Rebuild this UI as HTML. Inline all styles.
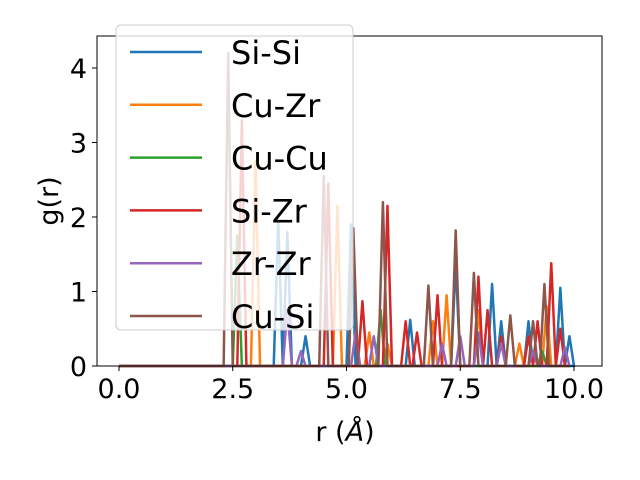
<!DOCTYPE html>
<html><head><meta charset="utf-8"><style>body{margin:0;background:#fff}svg{display:block;font-family:"DejaVu Sans","Liberation Sans",sans-serif}</style></head>
<body>
<svg id="chart" width="640" height="480"></svg>
<script>
const seriesNames=["Si-Si","Cu-Zr","Cu-Cu","Si-Zr","Zr-Zr","Cu-Si"];
const colors=["#1f77b4","#ff7f0e","#2ca02c","#d62728","#9467bd","#8c564b"];
const siSiR=[3.5,3.7,4.1,5.1,6.4,7.4,8.2,8.4,9.0,9.7,9.9];
const siSiG=[1.95,1.8,0.4,1.9,0.62,1.4,1.1,0.6,0.6,1.05,0.4];
const cuZrR=[3.0,4.8,5.5,5.9,6.9,7.2,7.9,8.8,9.4];
const cuZrG=[2.75,2.15,0.45,0.3,0.6,0.95,0.75,0.3,0.8];
const cuCuR=[2.6,5.75,9.3];
const cuCuG=[1.75,0.75,0.2];
const siZrR=[2.7,4.6,5.35,5.9,6.3,6.55,7.0,7.9,8.1,8.4,9.0,9.2,9.5,9.7];
const siZrG=[3.3,2.45,0.87,2.15,0.6,0.45,0.95,1.2,0.75,0.4,0.4,0.6,1.38,0.5];
const zrZrR=[3.7,4.0,5.2,5.6,7.1,7.5,7.9,8.4,9.1,9.8];
const zrZrG=[0.75,0.2,0.45,0.4,0.3,0.4,0.45,0.3,0.2,0.25];
const cuSiR=[2.4,4.5,5.15,5.8,6.8,7.4,7.8,8.6,9.1,9.35];
const cuSiG=[4.2,2.55,1.85,2.2,1.08,1.82,1.25,0.68,0.6,1.1];
const xTicks=[0,2.5,5,7.5,10];
const xTickLabels=["0.0","2.5","5.0","7.5","10.0"];
const yTicks=[0,1,2,3,4];
const yTickLabels=["0","1","2","3","4"];
const allR=[siSiR,cuZrR,cuCuR,siZrR,zrZrR,cuSiR];
const allG=[siSiG,cuZrG,cuCuG,siZrG,zrZrG,cuSiG];
const NS="http://www.w3.org/2000/svg";
const svg=document.getElementById('chart');
const L=97,R=602,T=36,B=366;
const xs=v=>119+v*45.5, ys=v=>366-v*74.5;
function mk(t,a,p){const e=document.createElementNS(NS,t);for(const k in a)e.setAttribute(k,a[k]);(p||svg).appendChild(e);return e;}
allR.forEach((rs,i)=>{
  const gs=allG[i];
  let d="M"+xs(0)+","+ys(0);
  rs.forEach((r,j)=>{d+=" L"+xs(r-0.1)+","+ys(0)+" L"+xs(r)+","+ys(gs[j])+" L"+xs(r+0.1)+","+ys(0);});
  d+=" L"+xs(9.9)+","+ys(0);
  const p=mk('path',{d:d,fill:"none",stroke:colors[i],"stroke-width":2.5,"stroke-linejoin":"round"});
  
  
});
const frame=mk('rect',{x:L,y:T,width:R-L,height:B-T,fill:"none",stroke:"#000","stroke-width":1});


xTicks.forEach((v,i)=>{
  mk('line',{x1:xs(v),x2:xs(v),y1:B,y2:B+5,stroke:"#000"});
  const t=mk('text',{x:xs(v),y:B+32,"font-size":27,"text-anchor":"middle"});t.textContent=xTickLabels[i];
  
  
});
yTicks.forEach((v,i)=>{
  mk('line',{x1:L-5,x2:L,y1:ys(v),y2:ys(v),stroke:"#000"});
  const t=mk('text',{x:L-10,y:ys(v)+10,"font-size":27,"text-anchor":"end"});t.textContent=yTickLabels[i];
  
  
});
const xl=mk('text',{x:345,y:441,"font-size":27,"text-anchor":"middle"});xl.innerHTML='r (<tspan font-style="italic">Å</tspan>)';


const yl=mk('text',{x:58,y:201,"font-size":27,"text-anchor":"middle",transform:"rotate(-90 58 201)"});yl.textContent='g(r)';


const lg=mk('g',{});


mk('rect',{x:116,y:25,width:237,height:305,rx:5,fill:"#fff","fill-opacity":0.8,stroke:"#ccc"},lg);
seriesNames.forEach((n,i)=>{
  const y=52+i*52.8;
  mk('line',{x1:130,x2:202,y1:y,y2:y,stroke:colors[i],"stroke-width":2.5},lg);
  const t=mk('text',{x:231,y:y+12,"font-size":32},lg);t.textContent=n;
  
  
});
</script>
</body></html>
